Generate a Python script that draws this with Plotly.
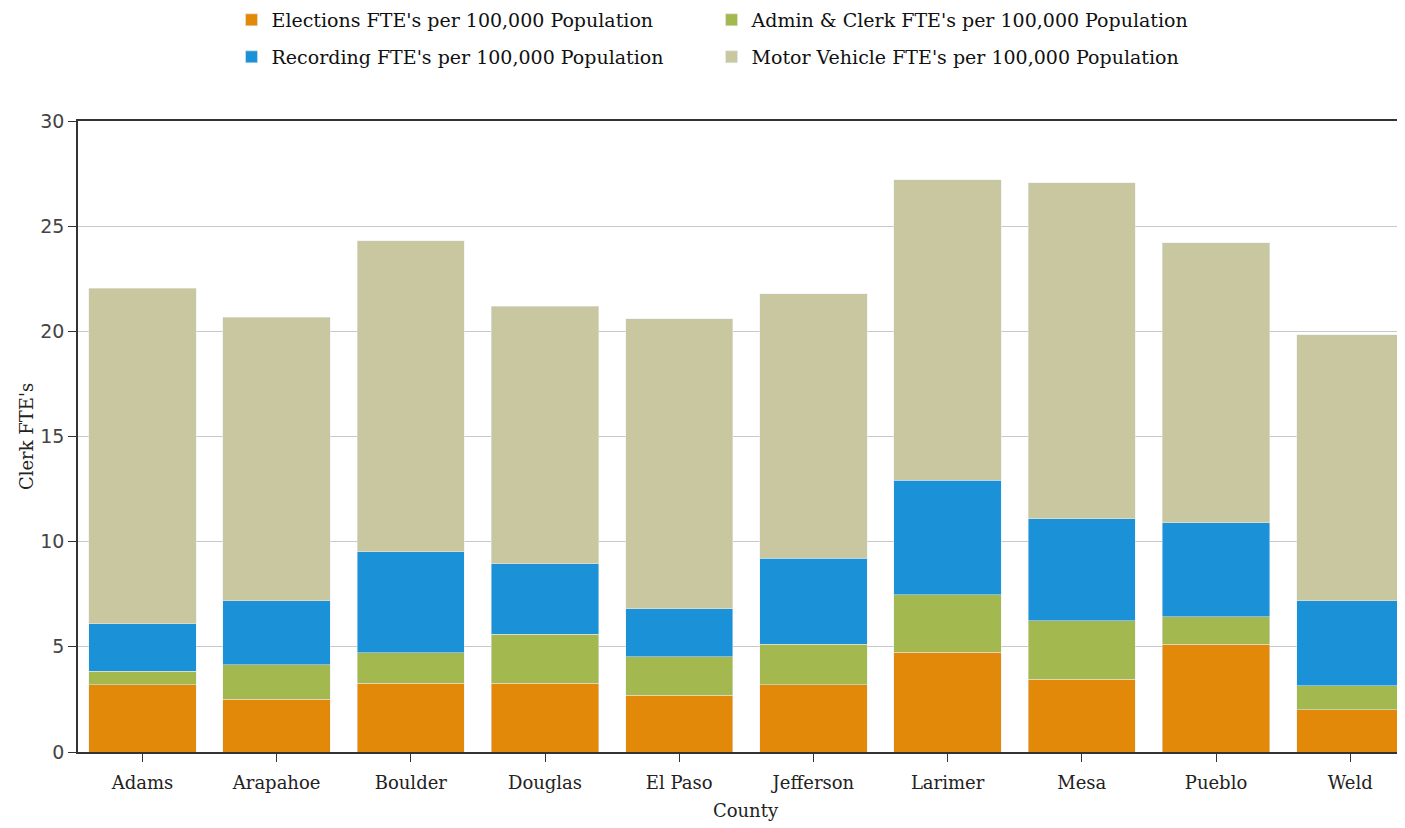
import plotly.graph_objects as go

counties = ["Adams", "Arapahoe", "Boulder", "Douglas", "El Paso",
            "Jefferson", "Larimer", "Mesa", "Pueblo", "Weld"]

elections = [3.2, 2.52, 3.28, 3.28, 2.71, 3.19, 4.75, 3.47, 5.13, 2.0]
admin_clerk = [0.65, 1.62, 1.43, 2.33, 1.81, 1.94, 2.72, 2.76, 1.29, 1.14]
recording = [2.25, 3.04, 4.8, 3.33, 2.28, 4.09, 5.46, 4.85, 4.47, 4.04]
motor_vehicle = [15.95, 13.5, 14.8, 12.26, 13.8, 12.56, 14.27, 15.98, 13.31, 12.65]

serif = "DejaVu Serif"
legend_font = dict(family=serif, size=19, color="#111")

fig = go.Figure()
fig.add_trace(go.Bar(name="Elections FTE's per 100,000 Population", x=counties, y=elections,
                     marker=dict(color="#E3890A"), legend="legend"))
fig.add_trace(go.Bar(name="Admin & Clerk FTE's per 100,000 Population", x=counties, y=admin_clerk,
                     marker=dict(color="#A3B84E"), legend="legend"))
fig.add_trace(go.Bar(name="Recording FTE's per 100,000 Population", x=counties, y=recording,
                     marker=dict(color="#1B91D8"), legend="legend2"))
fig.add_trace(go.Bar(name="Motor Vehicle FTE's per 100,000 Population", x=counties, y=motor_vehicle,
                     marker=dict(color="#C9C79F"), legend="legend2"))

# page body adds an 8px offset, so margins are set to compensate
fig.update_layout(
    barmode="stack", bargap=0.2,
    width=1405, height=828,
    margin={'l': 70, 'r': 0, 't': 113, 'b': 84},
    plot_bgcolor="white", paper_bgcolor="white",
    legend=dict(orientation="h", x=0.115, y=1 - 12 / 828, yref="container", xanchor="left",
                yanchor="middle", entrywidth=435, font=legend_font, traceorder="normal"),
    legend2=dict(orientation="h", x=0.115, y=1 - 49 / 828, yref="container", xanchor="left",
                 yanchor="middle", entrywidth=435, font=legend_font, traceorder="normal"),
)

fig.update_xaxes(range=[-0.48, 9.468], showline=True, linecolor="#333", linewidth=1.5, mirror=True,
                 ticks="outside", ticklen=8, tickcolor="#333", automargin=False, ticklabelstandoff=6,
                 tickfont=dict(family=serif, size=18, color="#222"),
                 title=dict(text="County", font=dict(family=serif, size=18, color="#222"), standoff=12))
fig.update_yaxes(range=[0, 30], dtick=5, showgrid=True, gridcolor="#c8c8c8", zeroline=False,
                 showline=True, linecolor="#333", linewidth=1.5, automargin=False,
                 ticks="outside", ticklen=8, tickcolor="#333",
                 tickfont=dict(family="DejaVu Sans", size=19, color="#444"),
                 title=dict(text="Clerk FTE's", font=dict(family=serif, size=18, color="#222"), standoff=2))

fig.write_html("out.html")
